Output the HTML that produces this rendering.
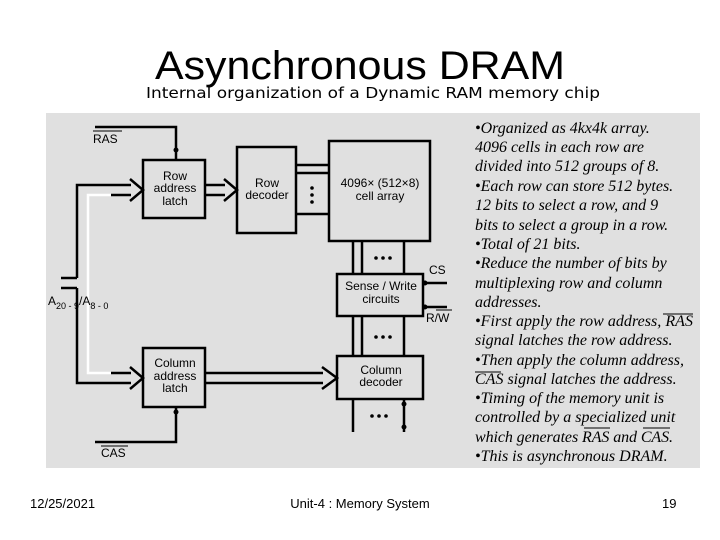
<!DOCTYPE html>
<html><head><meta charset="utf-8"><style>
body{margin:0;background:#fff}
svg{display:block}
.s{font-family:"Liberation Sans",sans-serif;font-size:12px;fill:#000}
.i{font-family:"Liberation Serif",serif;font-style:italic;font-size:16px;fill:#000}
</style></head><body>
<svg width="720" height="540" viewBox="0 0 720 540" xmlns="http://www.w3.org/2000/svg">
<rect width="720" height="540" fill="#fff"/>
<text x="155" y="79" font-family="Liberation Sans,sans-serif" font-size="40" textLength="410" lengthAdjust="spacingAndGlyphs">Asynchronous DRAM</text>
<text x="146" y="98" font-family="DejaVu Sans,sans-serif" font-size="15" textLength="454" lengthAdjust="spacingAndGlyphs">Internal organization of a Dynamic RAM memory chip</text>
<rect x="46" y="113" width="654" height="355" fill="#e0e0e0"/>
<g fill="none" stroke="#000" stroke-width="2.5">
<rect x="143" y="160" width="62" height="58"/>
<rect x="237" y="147" width="59" height="86"/>
<rect x="329" y="141" width="101" height="100"/>
<rect x="337" y="274" width="86" height="42"/>
<rect x="337" y="356" width="86" height="43"/>
<rect x="143" y="348" width="62" height="59"/>
<polyline points="95,127 176,127 176,160"/>
<polyline points="95,442 176,442 176,407"/>
<line x1="296" y1="165" x2="329" y2="165"/>
<line x1="296" y1="173" x2="329" y2="173"/>
<line x1="296" y1="214" x2="329" y2="214"/>
<line x1="353" y1="241" x2="353" y2="274"/>
<line x1="362" y1="241" x2="362" y2="274"/>
<line x1="404" y1="241" x2="404" y2="274"/>
<line x1="353" y1="316" x2="353" y2="356"/>
<line x1="362" y1="316" x2="362" y2="356"/>
<line x1="404" y1="316" x2="404" y2="356"/>
<line x1="353" y1="399" x2="353" y2="432"/>
<line x1="404" y1="399" x2="404" y2="432"/>
<line x1="447" y1="283" x2="423" y2="283"/>
<line x1="423" y1="307" x2="447" y2="307"/>
<line x1="61" y1="278" x2="77" y2="278"/>
<line x1="61" y1="288" x2="77" y2="288"/>
<polyline points="77,278 77,185 131,185"/>
<polyline points="77,288 77,383 131,383"/>
<line x1="111" y1="195" x2="131" y2="195"/>
<line x1="111" y1="373" x2="131" y2="373"/>
<polyline points="130,179 143,190 130,201"/>
<polyline points="130,367 143,378 130,389"/>
<line x1="205" y1="185" x2="225" y2="185"/>
<line x1="205" y1="195" x2="225" y2="195"/>
<polyline points="224,179 237,190 224,201"/>
<line x1="205" y1="373" x2="323" y2="373"/>
<line x1="205" y1="383" x2="323" y2="383"/>
<polyline points="322,367 337,378 322,389"/>
</g>
<polyline points="111,195 88,195 88,373 111,373" fill="none" stroke="#fff" stroke-width="2.5"/>
<g fill="#000">
<circle cx="176" cy="150" r="2.5"/><circle cx="176" cy="412" r="2.5"/>
<circle cx="425" cy="283" r="2.5"/><circle cx="425" cy="307" r="2.5"/>
<circle cx="404" cy="404" r="2.5"/><circle cx="404" cy="427" r="2.5"/>
<circle cx="312" cy="188" r="1.8"/><circle cx="312" cy="195" r="1.8"/><circle cx="312" cy="202" r="1.8"/>
<circle cx="376" cy="258" r="1.8"/><circle cx="383" cy="258" r="1.8"/><circle cx="390" cy="258" r="1.8"/>
<circle cx="376" cy="337" r="1.8"/><circle cx="383" cy="337" r="1.8"/><circle cx="390" cy="337" r="1.8"/>
<circle cx="372" cy="416" r="1.8"/><circle cx="379" cy="416" r="1.8"/><circle cx="386" cy="416" r="1.8"/>
</g>
<g class="s" text-anchor="middle">
<text x="175" y="180">Row</text><text x="175" y="192">address</text><text x="175" y="205">latch</text>
<text x="267" y="187">Row</text><text x="267" y="199">decoder</text>
<text x="380" y="187">4096× (512×8)</text><text x="380" y="200">cell array</text>
<text x="381" y="290">Sense / Write</text><text x="381" y="303">circuits</text>
<text x="381" y="374">Column</text><text x="381" y="386">decoder</text>
<text x="175" y="367">Column</text><text x="175" y="380">address</text><text x="175" y="392">latch</text>
</g>
<g class="s">
<text x="93" y="143">RAS</text><line x1="93" y1="131" x2="122" y2="131" stroke="#000"/>
<text x="101" y="457">CAS</text><line x1="101" y1="446" x2="128" y2="446" stroke="#000"/>
<text x="429" y="274">CS</text>
<text x="426" y="322">R/W</text><line x1="436" y1="310" x2="452" y2="310" stroke="#000"/>
<text x="48" y="305">A<tspan font-size="9" dy="4">20 - 9</tspan><tspan dy="-4">/A</tspan><tspan font-size="9" dy="4">8 - 0</tspan></text>
</g>
<g class="i">
<text x="475" y="133">•Organized as 4kx4k array.</text>
<text x="475" y="152">4096 cells in each row are</text>
<text x="475" y="171">divided into 512 groups of 8.</text>
<text x="475" y="191">•Each row can store 512 bytes.</text>
<text x="475" y="210">12 bits to select a row, and 9</text>
<text x="475" y="230">bits to select a group in a row.</text>
<text x="475" y="249">•Total of 21 bits.</text>
<text x="475" y="268">•Reduce the number of bits by</text>
<text x="475" y="288">multiplexing row and column</text>
<text x="475" y="307">addresses.</text>
<text x="475" y="326" textLength="218">•First apply the row address, RAS</text>
<text x="475" y="345">signal latches the row address.</text>
<text x="475" y="365">•Then apply the column address,</text>
<text x="475" y="384">CAS signal latches the address.</text>
<text x="475" y="403">•Timing of the memory unit is</text>
<text x="475" y="422">controlled by a specialized unit</text>
<text x="475" y="442" textLength="198">which generates RAS and CAS.</text>
<text x="475" y="461">•This is asynchronous DRAM.</text>
</g>
<g stroke="#000" stroke-width="1">
<line x1="663" y1="314" x2="693" y2="314"/>
<line x1="475" y1="372" x2="501" y2="372"/>
<line x1="584" y1="428" x2="610" y2="428"/>
<line x1="643" y1="428" x2="670" y2="428"/>
</g>
<g font-family="Liberation Sans,sans-serif" font-size="13">
<text x="30" y="508">12/25/2021</text>
<text x="360" y="508" text-anchor="middle">Unit-4 : Memory System</text>
<text x="662" y="508">19</text>
</g>
</svg>
</body></html>
